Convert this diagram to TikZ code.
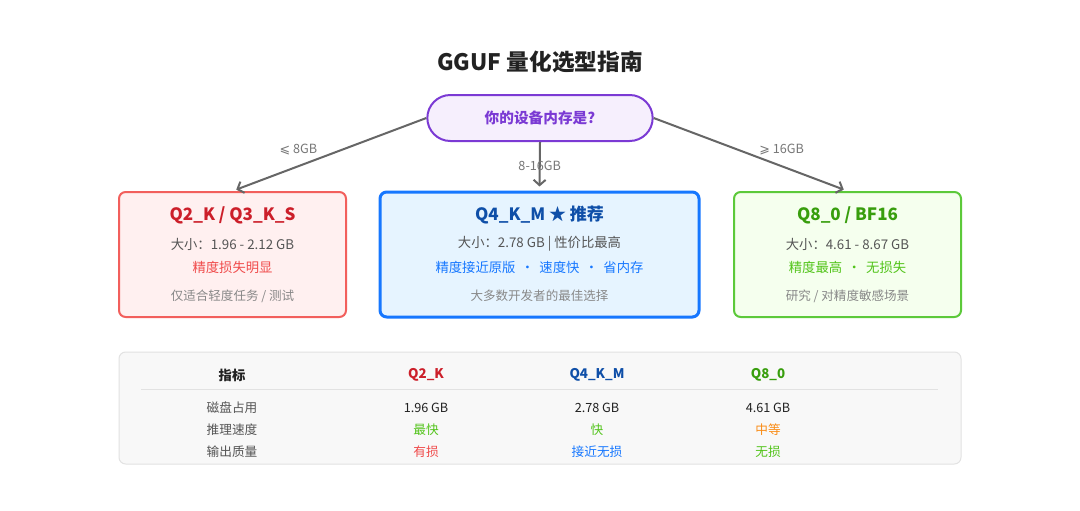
\documentclass[tikz,border=0pt]{standalone}
\usepackage{fontspec}
\setmainfont{Noto Sans CJK SC}
\newfontfamily\symfont{DejaVu Sans}
\usetikzlibrary{arrows.meta, positioning, shapes.misc}
\definecolor{titleblack}{HTML}{222222}
\definecolor{askpurple}{HTML}{7B3AD4}
\definecolor{askfill}{HTML}{F6EFFD}
\definecolor{arrowgray}{HTML}{666666}
\definecolor{labelgray}{HTML}{777777}
\definecolor{bodygray}{HTML}{555555}
\definecolor{notegray}{HTML}{888888}
\definecolor{lowred}{HTML}{F25F5C}
\definecolor{lowfill}{HTML}{FFF0F0}
\definecolor{lowtitle}{HTML}{CC1F2A}
\definecolor{lowtext}{HTML}{F04B4B}
\definecolor{midblue}{HTML}{1677FF}
\definecolor{midfill}{HTML}{E6F4FF}
\definecolor{midtitle}{HTML}{0F4FA8}
\definecolor{highgreen}{HTML}{5CC93A}
\definecolor{highfill}{HTML}{F5FFEE}
\definecolor{hightitle}{HTML}{389E0D}
\definecolor{hightext}{HTML}{52C41A}
\definecolor{midorange}{HTML}{FA8C16}
\definecolor{tablefill}{HTML}{F8F8F8}
\definecolor{tableline}{HTML}{E2E2E2}
\newcommand{\dotsep}{\hspace{0.4em}·\hspace{0.4em}}

\begin{document}
\begin{tikzpicture}[
    x=0.75pt, y=-0.75pt,
    every node/.style={text=bodygray, inner sep=1pt},
    box/.style 2 args={
        draw=#1, fill=#2,
        rounded corners=5pt,
        minimum height=93.75pt,
        line width=1.5pt
    },
    arr/.style={
        -{Straight Barb[length=4pt, width=9pt]},
        line width=1.5pt,
        color=arrowgray,
        shorten >=3pt
    },
    lbl/.style={
        font=\fontsize{9.5}{11}\selectfont,
        text=labelgray
    },
    boxtitle/.style={font=\fontsize{12.75}{15}\selectfont\bfseries},
    boxline/.style={font=\fontsize{10}{12}\selectfont},
    boxnote/.style={font=\fontsize{9.4}{11}\selectfont, text=notegray},
    cell/.style={font=\fontsize{9.5}{11}\selectfont},
    head/.style={font=\fontsize{10}{12}\selectfont\bfseries}
]
\useasboundingbox (0,0) rectangle (1080,510);
\fill[white] (0,0) rectangle (1080,510);

% Title
\node[font=\fontsize{17}{20}\selectfont\bfseries, text=titleblack] (title) at (540,62) {GGUF 量化选型指南};

% Question
\node[draw=askpurple, fill=askfill, line width=1.5pt, rounded rectangle,
      minimum width=171pt, minimum height=34.5pt,
      font=\fontsize{11}{13}\selectfont\bfseries, text=askpurple] (ask) at (540,118) {你的设备内存是?};

% Boxes
\node[box={lowred}{lowfill}, minimum width=170.25pt] (lowbox) at (232.5,254.5) {};
\node[box={midblue}{midfill}, minimum width=239.25pt, line width=2.25pt] (midbox) at (539.5,254.5) {};
\node[box={highgreen}{highfill}, minimum width=170.25pt] (highbox) at (847.5,254.5) {};

% Arrows
\draw[arr] (ask.west) -- (lowbox.north)
    node[lbl, pos=0.66, yshift=12.5pt] (lowlabel) {{\symfont ⩽} 8GB};
\draw[arr] (ask.south) -- (midbox.north)
    node[lbl, midway] (midlabel) {8-16GB};
\draw[arr] (ask.east) -- (highbox.north)
    node[lbl, pos=0.66, yshift=12.5pt] (highlabel) {{\symfont ⩾} 16GB};

% Text in the low box
\node[boxtitle, text=lowtitle] (lowtitle) at (232.5,215) {Q2\_K / Q3\_K\_S};
\node[boxline] (lowsize) at (232.5,244) {大小：1.96 - 2.12 GB};
\node[boxline, text=lowtext] (lowloss) at (232.5,267) {精度损失明显};
\node[boxnote] (lowuse) at (232.5,296) {仅适合轻度任务 / 测试};

% Text in the middle box
\node[boxtitle, text=midtitle] (midtitle) at (539.5,215) {Q4\_K\_M ★ 推荐};
\node[boxline] (midsize) at (539.5,244) {大小：2.78 GB | 性价比最高};
\node[boxline, text=midblue] (midloss) at (539.5,267) {精度接近原版\dotsep 速度快\dotsep 省内存};
\node[boxnote] (miduse) at (539.5,296) {大多数开发者的最佳选择};

% Text in the high box
\node[boxtitle, text=hightitle] (hightitle) at (847.5,215) {Q8\_0 / BF16};
\node[boxline] (highsize) at (847.5,244) {大小：4.61 - 8.67 GB};
\node[boxline, text=hightext] (highloss) at (847.5,267) {精度最高\dotsep 无损失};
\node[boxnote] (highuse) at (847.5,296) {研究 / 对精度敏感场景};

% Table
\node[draw=tableline, fill=tablefill, line width=0.75pt, rounded corners=5pt,
      minimum width=631.5pt, minimum height=84pt] (table) at (540,408) {};
\coordinate (ruleleft) at (141,389);
\coordinate (ruleright) at (938,389);
\draw[tableline, line width=0.75pt] (ruleleft) -- (ruleright);

\node[head, text=titleblack] (headmetric) at (232,375) {指标};
\node[head, text=lowtitle] (headlow) at (426,375) {Q2\_K};
\node[head, text=midtitle] (headmid) at (597,375) {Q4\_K\_M};
\node[head, text=hightitle] (headhigh) at (768,375) {Q8\_0};

\node[cell] (rowdisk) at (232,408) {磁盘占用};
\node[cell, text=titleblack] (disklow) at (426,408) {1.96 GB};
\node[cell, text=titleblack] (diskmid) at (597,408) {2.78 GB};
\node[cell, text=titleblack] (diskhigh) at (768,408) {4.61 GB};

\node[cell] (rowspeed) at (232,430) {推理速度};
\node[cell, text=hightext] (speedlow) at (426,430) {最快};
\node[cell, text=hightext] (speedmid) at (597,430) {快};
\node[cell, text=midorange] (speedhigh) at (768,430) {中等};

\node[cell] (rowquality) at (232,452) {输出质量};
\node[cell, text=lowtext] (qualitylow) at (426,452) {有损};
\node[cell, text=midblue] (qualitymid) at (597,452) {接近无损};
\node[cell, text=hightext] (qualityhigh) at (768,452) {无损};

\end{tikzpicture}
\end{document}
